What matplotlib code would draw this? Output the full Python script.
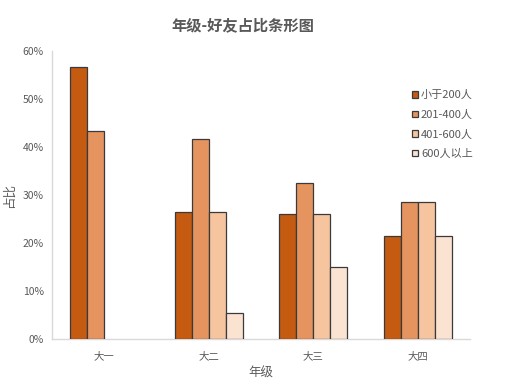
import matplotlib
matplotlib.use("Agg")
import matplotlib.pyplot as plt
from matplotlib.ticker import FuncFormatter, MultipleLocator
import numpy as np

plt.rcParams['font.family'] = ['Noto Sans CJK SC', 'DejaVu Sans']

categories = ["大一", "大二", "大三", "大四"]
series_names = ["小于200人", "201-400人", "401-600人", "600人以上"]
values = {
    "小于200人": [56.6, 26.4, 26.1, 21.4],
    "201-400人": [43.4, 41.6, 32.6, 28.6],
    "401-600人": [0.0, 26.4, 26.1, 28.6],
    "600人以上": [0.0, 5.4, 15.0, 21.4],
}
colors = ["#C55A11", "#E5945F", "#F6C5A0", "#FBE3D1"]

fig = plt.figure(figsize=(5.09, 3.82), dpi=100)
ax = fig.add_axes([0.102, 0.113, 0.821, 0.753])

x = np.arange(len(categories))
w = 0.163
for i, name in enumerate(series_names):
    vals = np.array(values[name]) / 100.0
    mask = vals > 0
    ax.bar(x[mask] + (i - 1.5) * w, vals[mask], width=w, color=colors[i],
           edgecolor="#3A3A3A", linewidth=0.9, label=name, zorder=3)

ax.set_xlim(-0.5, len(categories) - 0.5)
ax.set_ylim(0, 0.6)
ax.yaxis.set_major_locator(MultipleLocator(0.1))
ax.yaxis.set_major_formatter(FuncFormatter(lambda v, p: f"{v*100:.0f}%"))
ax.set_xticks(x)
ax.set_xticklabels(categories)

for s in ["top", "right"]:
    ax.spines[s].set_visible(False)
for s in ["left", "bottom"]:
    ax.spines[s].set_color("#D9D9D9")
    ax.spines[s].set_linewidth(1.0)

ax.tick_params(axis="both", length=0, labelsize=7.5, colors="#595959")
ax.tick_params(axis="x", pad=9)
ax.tick_params(axis="y", pad=6)

ax.set_xlabel("年级", fontsize=9, color="#595959", labelpad=4)
ax.set_ylabel("占比", fontsize=9, color="#595959", labelpad=5)

fig.suptitle("年级-好友占比条形图", x=0.478, y=0.955, fontsize=11,
             fontweight="bold", color="#595959")

leg = ax.legend(loc="upper left", bbox_to_anchor=(0.85, 0.88), frameon=False,
                fontsize=8, handlelength=0.55, handleheight=0.55,
                handletextpad=0.3, labelspacing=0.85, borderaxespad=0)
for t in leg.get_texts():
    t.set_color("#595959")

fig.savefig("out.png", dpi=100)
